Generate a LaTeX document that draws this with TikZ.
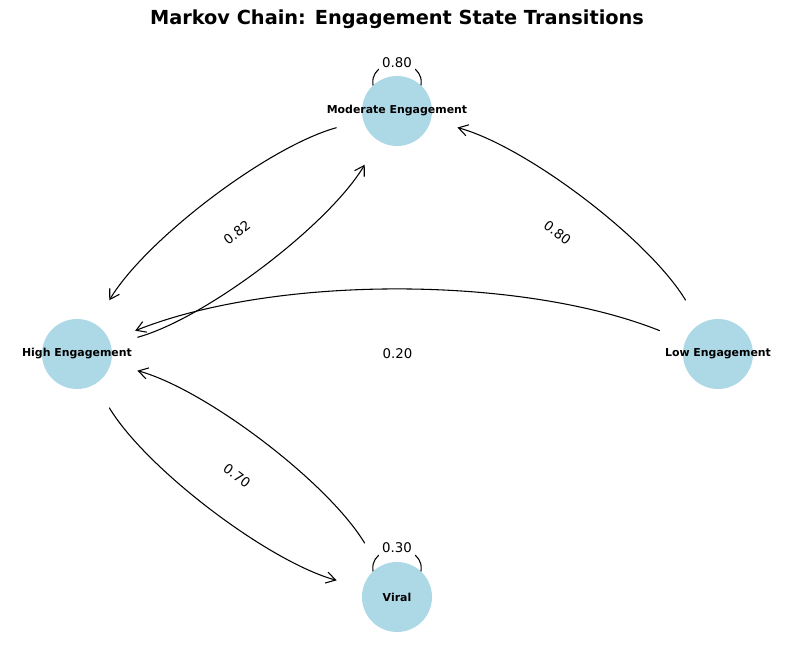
\documentclass[tikz,border=0pt]{standalone}
\usepackage{fontspec}
\setmainfont{DejaVu Sans}
\usetikzlibrary{arrows.meta,calc,backgrounds}
\definecolor{nodeblue}{HTML}{ADD8E6}
\begin{document}
\begin{tikzpicture}[x=0.75pt,y=0.75pt,
  state/.style={circle,fill=nodeblue,minimum size=52.5pt,inner sep=0pt,font=\bfseries\fontsize{8.2}{9}\selectfont},
  edge/.style={line width=0.8pt,-{Straight Barb[length=7pt,width=8.5pt]},shorten <=47pt,shorten >=47pt},
  elabel/.style={font=\fontsize{10}{12}\selectfont,fill=white,inner sep=2.5pt},
  loopline/.style={line width=0.8pt}]
\useasboundingbox (0,0) rectangle (794,659);

\node[font=\bfseries\fontsize{14.5}{17}\selectfont] (title) at (397,640) {Markov Chain: Engagement State Transitions};

\node[state] (mod) at (397,548) {\makebox[0pt]{Moderate Engagement}};
\node[state] (high) at (77,305) {\makebox[0pt]{High Engagement}};
\node[state] (low) at (718,305) {\makebox[0pt]{Low Engagement}};
\node[state] (vir) at (397,62) {\makebox[0pt]{Viral}};

\begin{scope}[on background layer]
\draw[loopline] ([shift={(-23,22)}]mod.center) .. controls ([shift={(-34,56)}]mod.center) and ([shift={(34,56)}]mod.center) .. ([shift={(23,22)}]mod.center);
\draw[loopline] ([shift={(-23,22)}]vir.center) .. controls ([shift={(-34,56)}]vir.center) and ([shift={(34,56)}]vir.center) .. ([shift={(23,22)}]vir.center);
\end{scope}
\node[elabel] (lmod) at ([shift={(0,48)}]mod.center) {0.80};
\node[elabel] (lvir) at ([shift={(0,49)}]vir.center) {0.30};

\draw[edge] (mod.center) to[bend right=21.8, looseness=0.85] (high.center);
\draw[edge] (high.center) to[bend right=21.8, looseness=0.85] (mod.center);
\draw[edge] (low.center) to[bend right=21.8, looseness=0.85] (mod.center);
\draw[edge] (low.center) to[bend right=21.8, looseness=0.85] (high.center);
\draw[edge] (high.center) to[bend right=21.8, looseness=0.85] (vir.center);
\draw[edge] (vir.center) to[bend right=21.8, looseness=0.85] (high.center);

\node[elabel,rotate=37.2] (l82) at ($(high.center)!0.5!(mod.center)$) {0.82};
\node[elabel,rotate=-37.2] (l80) at ($(mod.center)!0.5!(low.center)$) {0.80};
\node[elabel] (l20) at ($(high.center)!0.5!(low.center)$) {0.20};
\node[elabel,rotate=-37.2] (l70) at ($(high.center)!0.5!(vir.center)$) {0.70};
\end{tikzpicture}
\end{document}
